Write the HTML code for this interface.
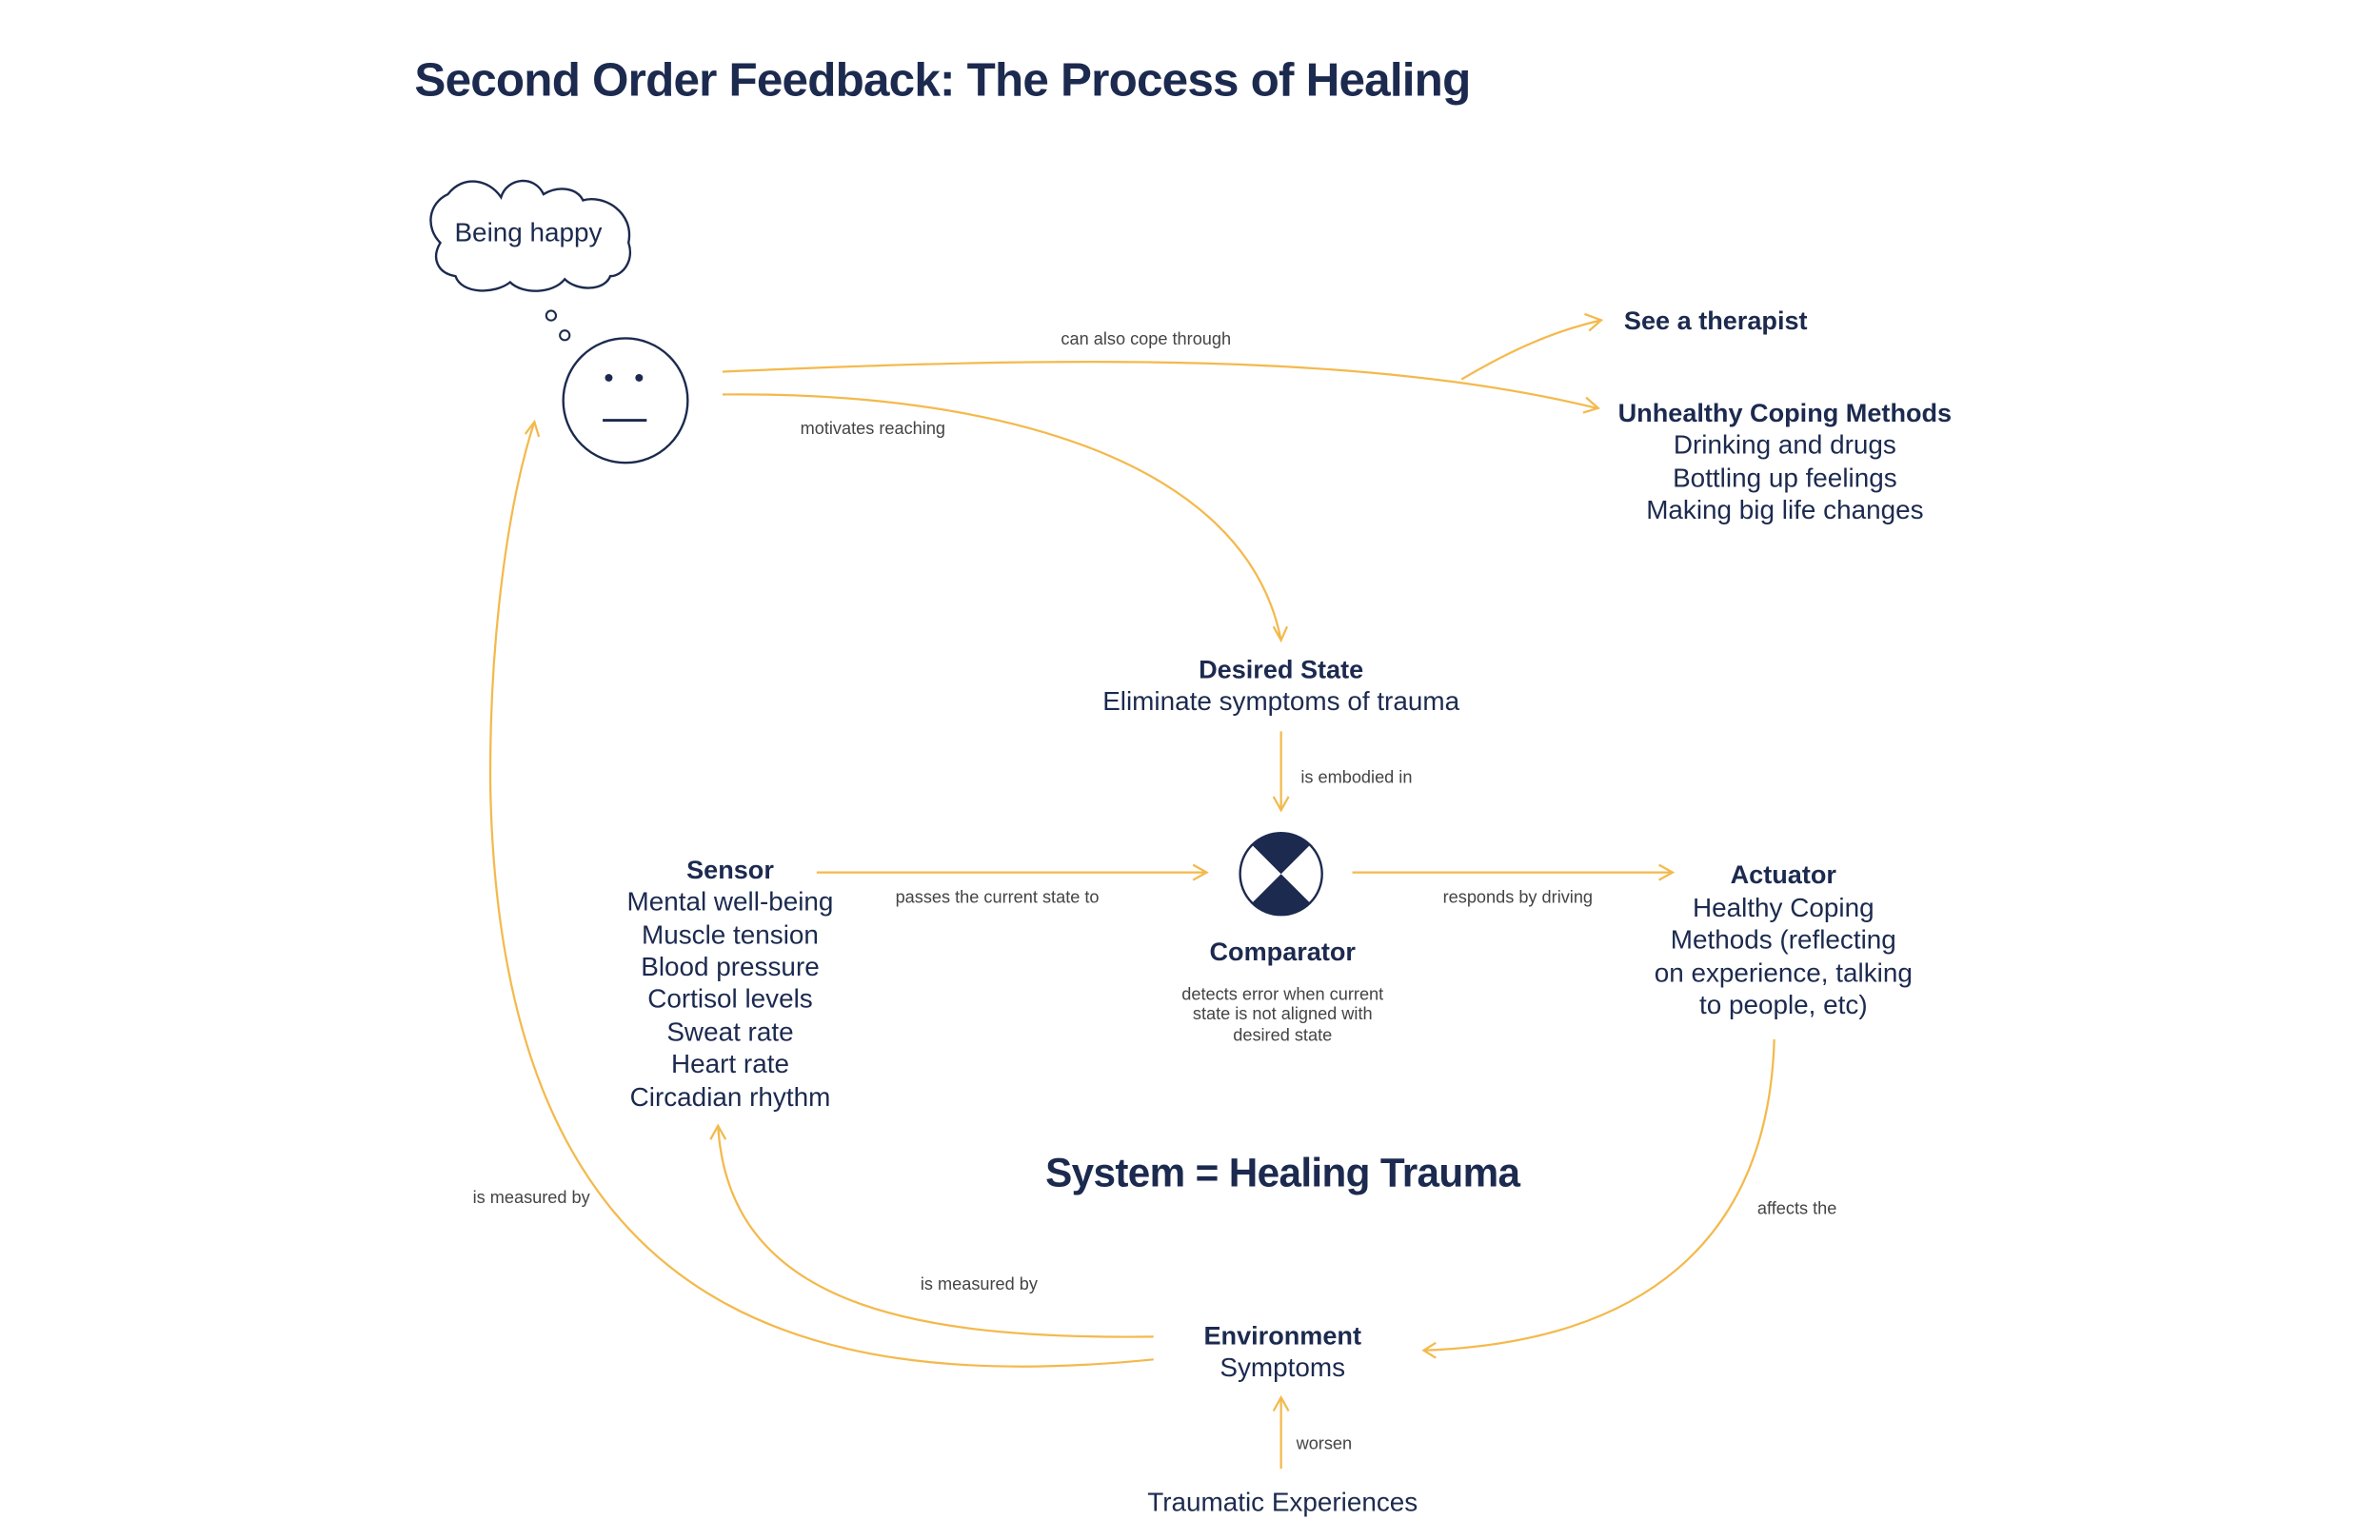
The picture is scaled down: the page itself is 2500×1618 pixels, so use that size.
<!DOCTYPE html>
<html><head><meta charset="utf-8"><style>
html,body{margin:0;padding:0;background:#fff;}
svg{display:block;}
text{font-family:"Liberation Sans",sans-serif;fill:#1c2a4f;}
.b{font-size:17px;font-weight:bold;}
.n{font-size:17.5px;}
.s{font-size:11.4px;fill:#444;}
.a{fill:none;stroke:#f4b94c;stroke-width:1.4;}
</style></head><body>
<svg width="2500" height="1618" viewBox="0 0 1568 1015" xmlns="http://www.w3.org/2000/svg">
<text x="273" y="63" style="font-size:31px;font-weight:bold;letter-spacing:-0.5px">Second Order Feedback: The Process of Healing</text>

<!-- cloud -->
<path d="M295,128 C305,115 322,118 330,130 C334,117 352,115 358,128 C368,122 380,124 384,132 C398,128 418,140 414,160 C418,172 410,182 402,182 C398,192 380,192 372,184 C364,194 344,194 336,186 C326,194 304,194 300,182 C288,180 284,170 290,160 C280,150 282,134 295,128 Z" fill="#fff" stroke="#1c2a4f" stroke-width="1.5"/>
<text x="348" y="159" class="n" text-anchor="middle">Being happy</text>
<circle cx="363" cy="208" r="3.2" fill="none" stroke="#1c2a4f" stroke-width="1.3"/>
<circle cx="372" cy="221" r="3.2" fill="none" stroke="#1c2a4f" stroke-width="1.3"/>
<!-- face -->
<circle cx="412" cy="264" r="41" fill="none" stroke="#1c2a4f" stroke-width="1.5"/>
<circle cx="401" cy="249" r="2.5" fill="#1c2a4f"/>
<circle cx="421" cy="249" r="2.5" fill="#1c2a4f"/>
<line x1="397" y1="277" x2="426" y2="277" stroke="#1c2a4f" stroke-width="1.8"/>

<!-- connectors -->
<path class="a" d="M476,245 C700,235 900,232 1052,269"/>
<path class="a" d="M1045,262 L1053,269 L1043,272"/>
<path class="a" d="M963,250 C990,234 1020,219 1055,211"/>
<path class="a" d="M1044,207 L1055,211 L1047,218"/>
<text x="755" y="227" class="s" text-anchor="middle">can also cope through</text>

<path class="a" d="M476,260 C650,258 820,300 844,422"/>
<path class="a" d="M839,413 L844,422 L848,413"/>
<text x="575" y="286" class="s" text-anchor="middle">motivates reaching</text>

<text x="1070" y="217" class="b">See a therapist</text>
<text x="1176" y="278" class="b" text-anchor="middle">Unhealthy Coping Methods</text>
<text x="1176" y="299" class="n" text-anchor="middle">Drinking and drugs</text>
<text x="1176" y="321" class="n" text-anchor="middle">Bottling up feelings</text>
<text x="1176" y="342" class="n" text-anchor="middle">Making big life changes</text>

<text x="844" y="447" class="b" text-anchor="middle">Desired State</text>
<text x="844" y="468" class="n" text-anchor="middle">Eliminate symptoms of trauma</text>

<line class="a" x1="844" y1="482" x2="844" y2="534"/>
<path class="a" d="M839,525 L844,534 L849,525"/>
<text x="857" y="516" class="s">is embodied in</text>

<!-- comparator -->
<circle cx="844" cy="576" r="27" fill="#fff" stroke="#1c2a4f" stroke-width="1.5"/>
<path d="M825,557 A27,27 0 0 1 863,557 L844,576 Z" fill="#1c2a4f"/>
<path d="M825,595 A27,27 0 0 0 863,595 L844,576 Z" fill="#1c2a4f"/>
<text x="845" y="633" class="b" text-anchor="middle">Comparator</text>
<text x="845" y="659" class="s" text-anchor="middle">detects error when current</text>
<text x="845" y="672" class="s" text-anchor="middle">state is not aligned with</text>
<text x="845" y="686" class="s" text-anchor="middle">desired state</text>

<text x="481" y="579" class="b" text-anchor="middle">Sensor</text>
<text x="481" y="600" class="n" text-anchor="middle">Mental well-being</text>
<text x="481" y="622" class="n" text-anchor="middle">Muscle tension</text>
<text x="481" y="643" class="n" text-anchor="middle">Blood pressure</text>
<text x="481" y="664" class="n" text-anchor="middle">Cortisol levels</text>
<text x="481" y="686" class="n" text-anchor="middle">Sweat rate</text>
<text x="481" y="707" class="n" text-anchor="middle">Heart rate</text>
<text x="481" y="729" class="n" text-anchor="middle">Circadian rhythm</text>

<line class="a" x1="538" y1="575" x2="795" y2="575"/>
<path class="a" d="M786,570 L795,575 L786,580"/>
<text x="657" y="595" class="s" text-anchor="middle">passes the current state to</text>
<line class="a" x1="891" y1="575" x2="1102" y2="575"/>
<path class="a" d="M1093,570 L1102,575 L1093,580"/>
<text x="1000" y="595" class="s" text-anchor="middle">responds by driving</text>

<text x="1175" y="582" class="b" text-anchor="middle">Actuator</text>
<text x="1175" y="604" class="n" text-anchor="middle">Healthy Coping</text>
<text x="1175" y="625" class="n" text-anchor="middle">Methods (reflecting</text>
<text x="1175" y="647" class="n" text-anchor="middle">on experience, talking</text>
<text x="1175" y="668" class="n" text-anchor="middle">to people, etc)</text>

<text x="845" y="782" text-anchor="middle" style="font-size:26.5px;font-weight:bold;letter-spacing:-0.4px">System = Healing Trauma</text>

<path class="a" d="M1169,685 C1165,820 1080,885 938,890"/>
<path class="a" d="M946,885 L938,890 L946,895"/>
<text x="1184" y="800" class="s" text-anchor="middle">affects the</text>

<text x="845" y="886" class="b" text-anchor="middle">Environment</text>
<text x="845" y="907" class="n" text-anchor="middle">Symptoms</text>

<path class="a" d="M760,881 C600,883 480,860 473,742"/>
<path class="a" d="M468,751 L473,742 L478,751"/>
<text x="645" y="850" class="s" text-anchor="middle">is measured by</text>

<path class="a" d="M760,896 C520,920 330,860 323,520 C322,420 335,330 352,278"/>
<path class="a" d="M346,286 L352,278 L355,288"/>
<text x="350" y="793" class="s" text-anchor="middle">is measured by</text>

<line class="a" x1="844" y1="968" x2="844" y2="921"/>
<path class="a" d="M839,930 L844,921 L849,930"/>
<text x="854" y="955" class="s">worsen</text>
<text x="845" y="996" class="n" text-anchor="middle">Traumatic Experiences</text>
</svg>
</body></html>
